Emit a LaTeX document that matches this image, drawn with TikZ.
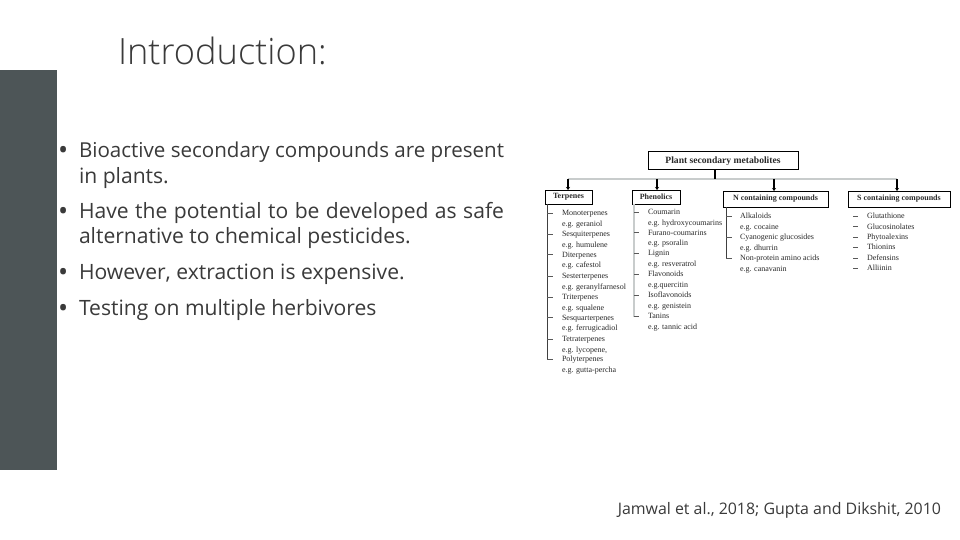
\documentclass[tikz,border=0pt]{standalone}
\usepackage{graphicx}
\usepackage{fontspec}
\setmainfont{Open Sans}
\newfontfamily\titlefont{Open Sans Light}
\newfontfamily\serifdiag{Liberation Serif}
\definecolor{side}{HTML}{4D5557}
\definecolor{body}{HTML}{3A3A3A}
\definecolor{diag}{HTML}{2A2A2A}
\definecolor{rail}{HTML}{C8CCCC}
\usetikzlibrary{arrows.meta}
\newcommand{\boxlabel}[1]{\raisebox{-1.5pt}{#1}}
\tikzset{
  x=1pt,y=-1pt,
  every node/.style={inner sep=0pt,outer sep=0pt},
  titletext/.style={anchor=base west,font=\titlefont\fontsize{36.2}{36}\selectfont,text=body},
  bullettext/.style={anchor=base west,font=\fontsize{21.1}{26}\selectfont,text=body},
  bulletmark/.style={anchor=base west,font=\fontsize{27}{26}\selectfont,text=body},
  citetext/.style={anchor=base east,font=\fontsize{15.9}{16}\selectfont,text=body},
  boxnode/.style={draw=black,line width=1pt,fill=white,font=\serifdiag\fontsize{8}{9}\selectfont,text=diag},
  rootnode/.style={boxnode,font=\serifdiag\fontsize{9.6}{10}\selectfont},
  itemtext/.style={anchor=base west,font=\serifdiag\fontsize{8}{9}\selectfont,text=diag},
  railline/.style={draw=rail,line width=1.4pt},
  treeline/.style={draw=black!75,line width=0.7pt},
  tickline/.style={draw=black!65,line width=0.7pt},
  stemline/.style={draw=black,line width=1.4pt},
  downarrow/.style={draw=black,line width=1.4pt,-{Stealth[length=3pt,width=4pt]}},
}
\begin{document}
\begin{tikzpicture}
\useasboundingbox (0,0) rectangle (960,540);
\fill[white] (0,0) rectangle (960,540);
\fill[side] (0,70) rectangle (57,470);
\node[titletext] (title) at (118,65) {Introduction:};
\foreach \n/\y in {b1/160,b2/220,b3/281,b4/317}{\node[bulletmark] (\n) at (58,\y) {•};}
\node[bullettext] (l1) at (79,158) {\resizebox{425pt}{!}{Bioactive secondary compounds are present}};
\node[bullettext] (l1b) at (79,183) {in plants.};
\node[bullettext] (l2) at (79,218) {\hbox to 425pt{Have\hfil{} the\hfil{} potential\hfil{} to\hfil{} be\hfil{} developed\hfil{} as\hfil{} safe}};
\node[bullettext] (l2b) at (79,243) {alternative to chemical pesticides.};
\node[bullettext] (l3) at (79,279) {However, extraction is expensive.};
\node[bullettext] (l4) at (79,315) {Testing on multiple herbivores};
\node[citetext] (cite) at (941,514) {Jamwal et al., 2018; Gupta and Dikshit, 2010};
% rail
\coordinate (railL) at (568,179);
\coordinate (railR) at (897,179);
\coordinate (railM) at (715,179);
\coordinate (railP) at (657,179);
\coordinate (railN) at (774,179);
\draw[railline] (railL) -- (railR);
% boxes
\node[rootnode,minimum width=150pt,minimum height=18pt] (root) at (723,161) {\boxlabel{\textbf{Plant secondary metabolites}}};
\node[boxnode,minimum width=47pt,minimum height=14pt] (terp) at (568.5,197) {\boxlabel{\textbf{Terpenes}}};
\node[boxnode,minimum width=48pt,minimum height=14pt] (phen) at (656,197) {\boxlabel{\textbf{Phenolics}}};
\node[boxnode,minimum width=105pt,minimum height=16pt] (ncomp) at (775.5,199) {\boxlabel{\textbf{N containing compounds}}};
\node[boxnode,minimum width=102pt,minimum height=16pt] (scomp) at (899,199) {\boxlabel{\textbf{S containing compounds}}};
% arrows
\draw[stemline] (root.south -| railM) -- (railM);
\draw[downarrow] (railL) -- (railL |- terp.north);
\draw[downarrow] (railP) -- (railP |- phen.north);
\draw[downarrow] (railN) -- (railN |- ncomp.north);
\draw[downarrow] (railR) -- (railR |- scomp.north);
% Terpenes
\coordinate (tEnd) at (547,359);
\draw[treeline] (terp.south -| tEnd) -- (tEnd);
\foreach \a/\b/\y [count=\i] in {Monoterpenes/e.g. geraniol/213,Sesquiterpenes/e.g. humulene/234,Diterpenes/e.g. cafestol/254.5,Sesterterpenes/e.g. geranylfarnesol/276,Triterpenes/e.g. squalene/297,Sesquarterpenes/e.g. ferrugicadiol/317.5,Tetraterpenes/{e.g. lycopene,}/339,Polyterpenes/e.g. gutta-percha/359}{
  \coordinate (tt\i) at (547,\y);
  \draw[tickline] (tt\i) -- ++(6,0);
  \node[itemtext] (ta\i) at (562,\y+2.5) {\a};
  \node[itemtext] (tb\i) at (562,\y+13) {\b};
}
% Phenolics
\coordinate (pEnd) at (634,317);
\draw[railline] (phen.south -| pEnd) -- (pEnd);
\foreach \a/\b/\y [count=\i] in {Coumarin/e.g. hydroxycoumarins/212,Furano-coumarins/e.g. psoralin/232.5,Lignin/e.g. resveratrol/253,Flavonoids/e.g.quercitin/274,Isoflavonoids/e.g. genistein/295,Tanins/e.g. tannic acid/316}{
  \coordinate (pt\i) at (634,\y);
  \draw[tickline] (pt\i) -- ++(5,0);
  \node[itemtext] (pa\i) at (648,\y+2.5) {\a};
  \node[itemtext] (pb\i) at (648,\y+13) {\b};
}
% N
\coordinate (nEnd) at (726,258);
\draw[treeline] (ncomp.south -| nEnd) -- (nEnd);
\foreach \a/\b/\y [count=\i] in {Alkaloids/e.g. cocaine/216,Cyanogenic glucosides/e.g. dhurrin/237,Non-protein amino acids/e.g. canavanin/258}{
  \coordinate (nt\i) at (726,\y);
  \draw[tickline] (nt\i) -- ++(6,0);
  \node[itemtext] (na\i) at (740,\y+2.5) {\a};
  \node[itemtext] (nb\i) at (740,\y+13) {\b};
}
% S
\foreach \a/\y [count=\i] in {Glutathione/216,Glucosinolates/226.5,Phytoalexins/237,Thionins/247,Defensins/258,Alliinin/268}{
  \coordinate (st\i) at (853,\y);
  \draw[tickline] (st\i) -- ++(5,0);
  \node[itemtext] (sa\i) at (867,\y+2.5) {\a};
}
\end{tikzpicture}
\end{document}
